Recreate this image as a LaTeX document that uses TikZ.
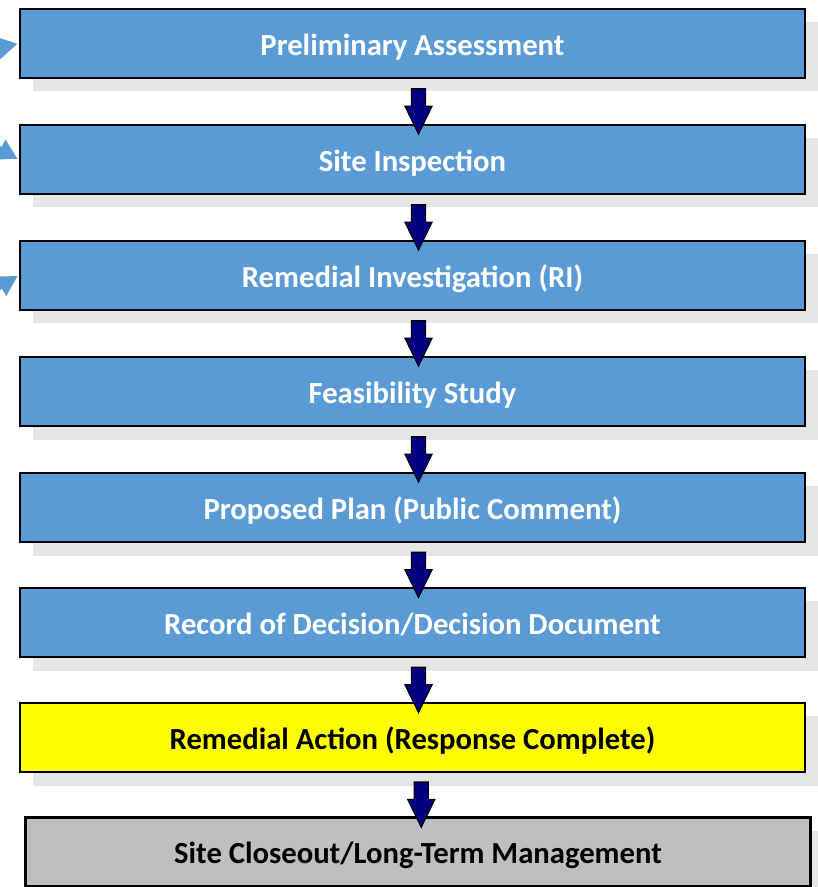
\documentclass[tikz,border=0pt]{standalone}
\usepackage{fontspec}
\setmainfont{Carlito}
\usetikzlibrary{shapes.arrows, shadows, arrows.meta}
\definecolor{stageblue}{RGB}{91,155,213}
\definecolor{shade}{RGB}{230,230,230}
\definecolor{navyarrow}{RGB}{0,0,128}
\definecolor{closegray}{RGB}{191,191,191}
\definecolor{actionyellow}{RGB}{255,255,0}
\tikzstyle{stage} = [rectangle, minimum width=589pt, minimum height=52pt, text height=22pt, text depth=4.5pt, text centered, draw=black, line width=1.8pt, fill=stageblue, text=white, font=\fontsize{23}{27}\selectfont\bfseries, drop shadow={shadow xshift=10pt, shadow yshift=-10pt, fill=shade, opacity=1}]
\tikzstyle{action} = [stage, fill=actionyellow, text=black]
\tikzstyle{closeout} = [stage, fill=closegray, text=black]
\tikzstyle{blockarrow} = [single arrow, shape border rotate=270, draw=black, fill=navyarrow, line width=0.8pt, minimum height=34pt, single arrow head extend=4.9pt, single arrow head indent=0pt, single arrow tip angle=52, inner sep=4.9pt]
\tikzstyle{feed} = [draw=stageblue, line width=4.5pt, -{Triangle[length=15pt, width=16pt]}, shorten >=0.8pt]

\begin{document}
\begin{tikzpicture}[x=0.75pt, y=-0.75pt]
\useasboundingbox (0,0) rectangle (817,887);

\node at (412.5, 43.5) (prelim) [stage] {Preliminary Assessment};
\node at (412.5, 159.5) (inspect) [stage] {Site Inspection};
\node at (412.5, 275.5) (ri) [stage] {Remedial Investigation (RI)};
\node at (412.5, 391.5) (fs) [stage] {Feasibility Study};
\node at (412.5, 507.5) (plan) [stage] {Proposed Plan (Public Comment)};
\node at (412.5, 622.5) (rod) [stage] {Record of Decision/Decision Document};
\node at (412.5, 737.5) (remedy) [action] {Remedial Action (Response Complete)};
\node at (418, 852) (closeout) [closeout] {Site Closeout/Long-Term Management};

% step arrows
\path (prelim.south) -- (inspect.north) node [blockarrow, midway, xshift=4.5pt, yshift=-2pt] (a1) {};
\path (inspect.south) -- (ri.north) node [blockarrow, midway, xshift=4.5pt, yshift=-2pt] (a2) {};
\path (ri.south) -- (fs.north) node [blockarrow, midway, xshift=4.5pt, yshift=-2pt] (a3) {};
\path (fs.south) -- (plan.north) node [blockarrow, midway, xshift=4.5pt, yshift=-2pt] (a4) {};
\path (plan.south) -- (rod.north) node [blockarrow, midway, xshift=4.5pt, yshift=-2pt] (a5) {};
\path (rod.south) -- (remedy.north) node [blockarrow, midway, xshift=4.5pt, yshift=-2pt] (a6) {};
\path (remedy.south) -- (closeout.north) node [blockarrow, midway, xshift=4.5pt, yshift=-2pt] (a7) {};

% arrows coming in from the left
\coordinate (in1) at (-40, 56);
\coordinate (in2) at (-40, 128);
\coordinate (in3) at (-40, 310);
\draw [feed] (in1) -- (prelim.west);
\draw [feed] (in2) -- (inspect.west);
\draw [feed] (in3) -- (ri.west);

\end{tikzpicture}
\end{document}
